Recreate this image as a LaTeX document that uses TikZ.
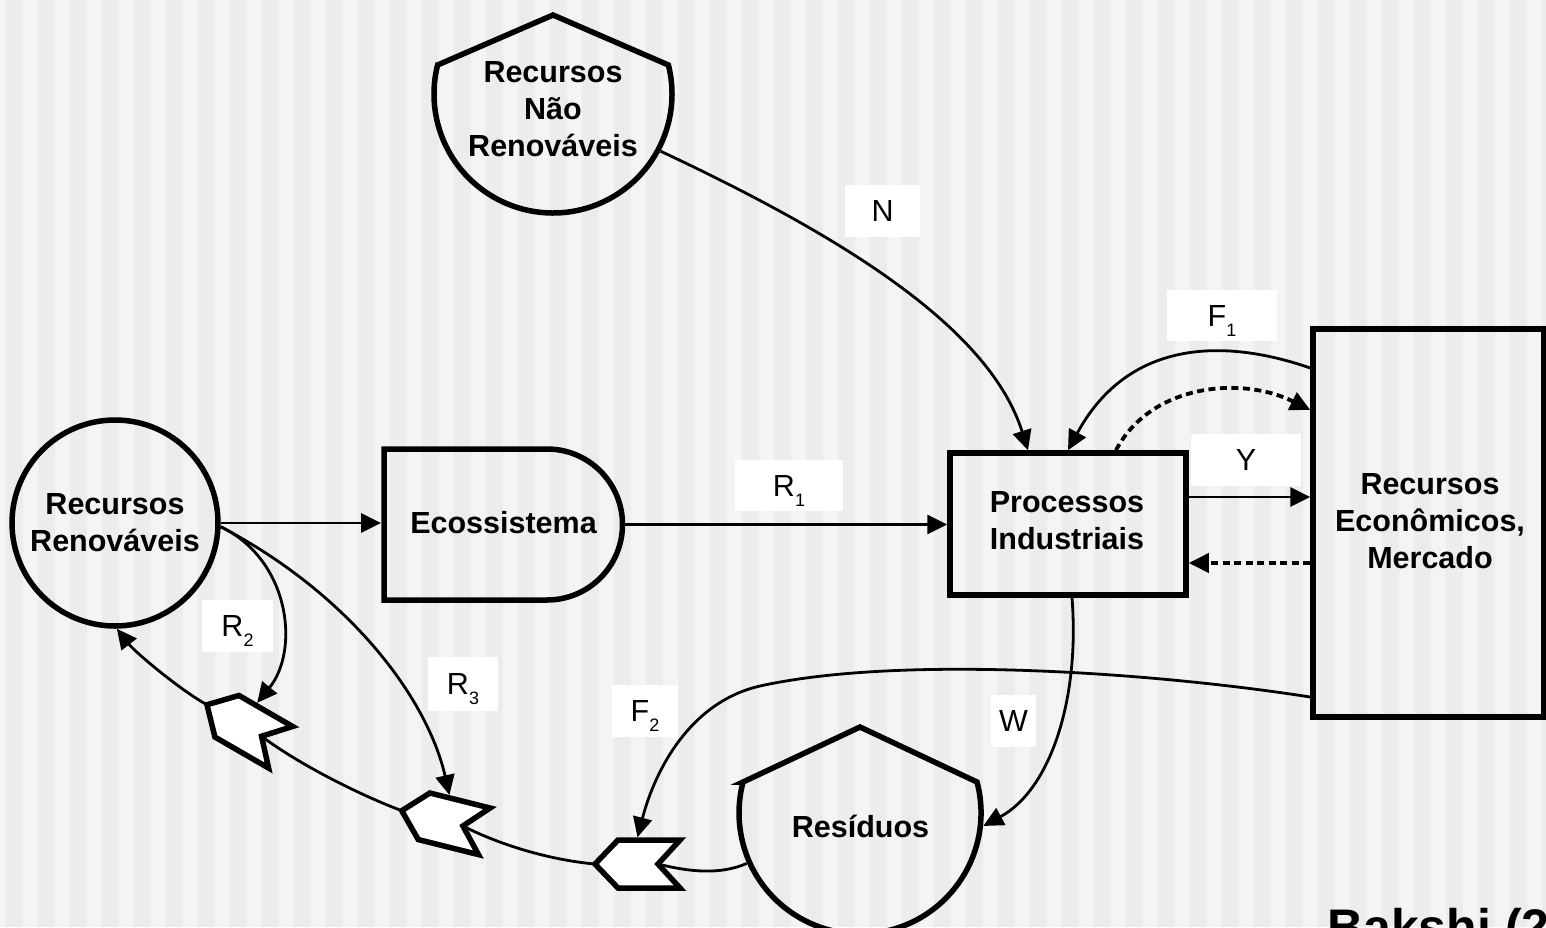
\documentclass[tikz,border=0pt]{standalone}
\usepackage{fontspec}
\setmainfont{Liberation Sans}
\usetikzlibrary{arrows.meta}
\definecolor{stripeA}{HTML}{F4F4F4}
\definecolor{stripeB}{HTML}{ECECEC}
\newcommand\mysub[1]{\raisebox{-10pt}{\fontsize{18}{18}\selectfont #1}}
\begin{document}
\begin{tikzpicture}[x=1pt,y=-1pt,
  shapeline/.style={line width=5.5pt, line join=miter},
  conn/.style={line width=2.8pt, -{Triangle[length=20pt,width=19pt]}},
  plainconn/.style={line width=2.8pt},
  dashconn/.style={line width=3.8pt, dash pattern=on 7pt off 4.5pt, -{Triangle[length=20pt,width=19pt]}},
  maintext/.style={font=\bfseries\fontsize{30.5}{37}\selectfont, align=center, inner sep=0pt},
  lbox/.style={fill=white, inner sep=0pt, text height=21pt, text depth=0pt, font=\fontsize{30.5}{37}\selectfont},
  chev/.pic={
    \draw[shapeline, fill=white] (-42.5,0) -- (-19.5,-24) -- (42.5,-24) -- (20.5,0) -- (42.5,24) -- (-19.5,24) -- cycle;
    \coordinate (-tip) at (-42.5,0);
    \coordinate (-notch) at (20.5,0);
    \coordinate (-top) at (0,-26.75);
  }
]
\useasboundingbox (0,0) rectangle (1546,927);
\clip (0,0) rectangle (1546,927);
% background stripes
\fill[stripeA] (0,0) rectangle (1546,927);
\foreach \k in {0,...,48} { \fill[stripeB] ({6+32*\k},0) rectangle ({23+32*\k},927); }

% shapes
\draw[shapeline] (437.6,65) -- (553,15) -- (668.4,65) arc[start angle=-14.1, end angle=194.1, radius=119] -- cycle;
\draw[shapeline] (743,782) -- (860,727) -- (977,782) arc[start angle=-14.8, end angle=194.8, radius=121] -- cycle;
\draw[shapeline] (547,449) -- (384,449) -- (384,600) -- (547,600) arc[start angle=90, end angle=-90, radius=75.5] -- cycle;

\node[circle, draw, shapeline, minimum size=206pt, inner sep=0pt, maintext] (rr) at (115,523) {Recursos\\Renováveis};
\node[circle, minimum size=243.5pt, inner sep=0pt] (nr) at (553,94) {};
\node[maintext] (nrt) at (553,109) {Recursos\\Não\\Renováveis};
\node[minimum width=243.5pt, minimum height=156.5pt, inner sep=0pt] (eco) at (503,524.5) {};
\node[maintext, anchor=base] (ecot) at (503.5,533) {Ecossistema};
\node[draw, shapeline, minimum width=236pt, minimum height=142pt, inner sep=0pt] (pi) at (1068,524) {};
\node[maintext] (pit) at (1067,521) {Processos\\Industriais};
\node[draw, shapeline, minimum width=231pt, minimum height=388pt, inner sep=0pt] (mer) at (1428.5,523) {};
\node[maintext] (mert) at (1430,521) {Recursos\\Econômicos,\\Mercado};
\node[circle, minimum size=247.5pt, inner sep=0pt] (res) at (860,813) {};
\node[maintext, anchor=base] (rest) at (860.5,837) {Resíduos};

% chevrons
\pic[rotate=-30] (c1) at (243.8,726) {chev};
\pic[rotate=-14] (c2) at (443,821) {chev};
\pic (c3) at (637.5,864) {chev};

% label boxes
\node[lbox, minimum width=75pt, minimum height=52pt] (lN) at (882.5,211) {N};
\node[lbox, minimum width=108pt, minimum height=51pt] (lR1) at (789,485.5) {R\mysub{1}};
\node[lbox, minimum width=110pt, minimum height=51pt] (lF1) at (1222,315.5) {F\mysub{1}};
\node[lbox, minimum width=110pt, minimum height=52pt] (lY) at (1246,460) {Y};
\node[lbox, minimum width=71pt, minimum height=52pt] (lR2) at (237.5,626) {R\mysub{2}};
\node[lbox, minimum width=70pt, minimum height=54pt] (lR3) at (463,684) {R\mysub{3}};
\node[lbox, minimum width=66pt, minimum height=52pt] (lF2) at (645,711) {F\mysub{2}};
\node[lbox, minimum width=45pt, minimum height=52pt] (lW) at (1013.5,721) {W};

% helper coordinates
\coordinate (vx1028) at (1028,0);
\coordinate (vx1116) at (1116,0);
\coordinate (vx1072) at (1072,0);
\coordinate (h368) at (0,368);
\coordinate (h410) at (0,410);
\coordinate (h497) at (0,497);
\coordinate (h563) at (0,563);
\coordinate (h697) at (0,697);

% connectors
\draw[conn] (nr.-28) .. controls (850,240) and (990,330) .. (vx1028 |- pi.north);
\draw[conn] (mer.west |- h368) .. controls (1215,335) and (1125,345) .. (pi.north);
\draw[dashconn] (vx1116 |- pi.north) .. controls (1150,385) and (1240,375) .. (mer.west |- h410);
\draw[conn] (pi.east |- h497) -- (mer.west |- h497);
\draw[dashconn] (mer.west |- h563) -- (pi.east |- h563);
\draw[conn] (mer.west |- h697) .. controls (1150,672) and (900,655) .. (760,686) .. controls (690,702) and (655,770) .. (c3-top);
\draw[conn] (vx1072 |- pi.south) .. controls (1080,700) and (1050,790) .. (res.-6);
\draw[plainconn] (res.204) .. controls (720,875) and (690,872) .. (c3-notch);
\draw[plainconn] (c3-tip) .. controls (550,860) and (500,845) .. (c2-notch);
\draw[plainconn] (c2-tip) .. controls (360,795) and (300,765) .. (c1-notch);
\draw[conn] (c1-tip) .. controls (180,690) and (135,652) .. (rr.-89);
\draw[conn] (rr.east) -- (rr.east -| eco.west);
\draw[conn] (eco.east) -- (eco.east -| pi.west);
\draw[conn] (rr.-2) .. controls (290,560) and (300,650) .. (c1-top);
\draw[conn] (rr.-2) .. controls (349,594) and (427,697) .. (c2-top);

\node[font=\bfseries\fontsize{50}{60}\selectfont, anchor=base west, inner sep=0pt] (bak) at (1327,944) {Bakshi (2};
\end{tikzpicture}
\end{document}
